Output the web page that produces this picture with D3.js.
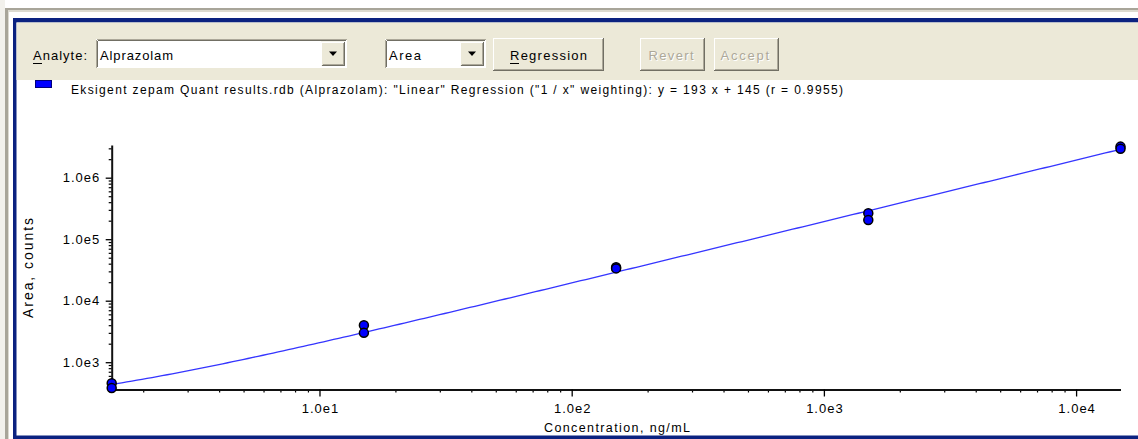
<!DOCTYPE html>
<html>
<head>
<meta charset="utf-8">
<script src="https://cdn.jsdelivr.net/npm/d3@7"></script>
<style>
  html, body { margin: 0; padding: 0; background: #ffffff; }
  svg { display: block; font-family: "Liberation Sans", Arial, sans-serif; }
</style>
</head>
<body>
<svg id="chart" width="1138" height="439"></svg>
<script>
// Calibration standards (ng/mL) and measured peak areas (counts)
const concentrations = [1.5, 1.5, 15, 15, 150, 150, 1500, 1500, 15000, 15000];
const areas = [455, 380, 4000, 3000, 35000, 33500, 265000, 205000, 3200000, 2950000];

// Regression reported by the quantitation: y = 193 x + 145, 1/x weighting
const slope = 193;
const intercept = 145;
const rValue = 0.9955;

// Axis decades and labels
const xDecades = [10, 100, 1000, 10000];
const yDecades = [1000, 10000, 100000, 1000000];
const xDomain = [1.5, 15000];
const yDomain = [360, 3400000];

const analyteName = "Alprazolam";
const responseName = "Area";
const legendText = `Eksigent zepam Quant results.rdb (${analyteName}): "Linear" Regression ("1 / x" weighting): y = ${slope} x + ${intercept} (r = ${rValue})`;

const svg = d3.select("#chart");
const W = 1138, H = 439;

// ---------- window frame ----------
svg.append("rect").attr("x", 0).attr("y", 0).attr("width", W).attr("height", H).attr("fill", "#ffffff");
svg.append("rect").attr("x", 0).attr("y", 0).attr("width", 5).attr("height", H).attr("fill", "#f2f1ec");
svg.append("rect").attr("x", 5).attr("y", 8).attr("width", 3).attr("height", H - 8).attr("fill", "#a8a599");
svg.append("rect").attr("x", 5).attr("y", 8).attr("width", W - 5).attr("height", 2).attr("fill", "#a8a599");
svg.append("rect").attr("x", 8).attr("y", 10).attr("width", W - 8).attr("height", 2).attr("fill", "#dcdad0");
svg.append("rect").attr("x", 8).attr("y", 12).attr("width", 1).attr("height", H - 12).attr("fill", "#dcdad0");

// navy panel border
const navy = "#0b2280";
svg.append("rect").attr("x", 13).attr("y", 18).attr("width", W - 13).attr("height", 4.5).attr("fill", navy);
svg.append("rect").attr("x", 13).attr("y", 18).attr("width", 3.5).attr("height", H - 18).attr("fill", navy);
svg.append("rect").attr("x", 13).attr("y", 435.5).attr("width", W - 13).attr("height", 3.5).attr("fill", navy);

// toolbar
svg.append("rect").attr("x", 16.5).attr("y", 22.5).attr("width", W - 16.5).attr("height", 57.5).attr("fill", "#ece9d8");

function line(g, x1, y1, x2, y2, c) {
  g.append("line").attr("x1", x1).attr("y1", y1).attr("x2", x2).attr("y2", y2)
    .attr("stroke", c).attr("stroke-width", 1).attr("shape-rendering", "crispEdges");
}
function raised(x, y, w, h) {
  const g = svg.append("g");
  g.append("rect").attr("x", x).attr("y", y).attr("width", w).attr("height", h).attr("fill", "#ece9d8");
  line(g, x + 0.5, y + 0.5, x + w - 0.5, y + 0.5, "#ffffff");
  line(g, x + 0.5, y + 0.5, x + 0.5, y + h - 0.5, "#ffffff");
  line(g, x + 0.5, y + h - 0.5, x + w - 0.5, y + h - 0.5, "#716f64");
  line(g, x + w - 0.5, y + 0.5, x + w - 0.5, y + h - 0.5, "#716f64");
  line(g, x + 1.5, y + h - 1.5, x + w - 1.5, y + h - 1.5, "#aca899");
  line(g, x + w - 1.5, y + 1.5, x + w - 1.5, y + h - 1.5, "#aca899");
  return g;
}
function sunken(x, y, w, h) {
  const g = svg.append("g");
  g.append("rect").attr("x", x).attr("y", y).attr("width", w).attr("height", h).attr("fill", "#ffffff");
  line(g, x + 0.5, y + 0.5, x + w - 0.5, y + 0.5, "#aca899");
  line(g, x + 0.5, y + 0.5, x + 0.5, y + h - 0.5, "#aca899");
  line(g, x + 1.5, y + 1.5, x + w - 1.5, y + 1.5, "#716f64");
  line(g, x + 1.5, y + 1.5, x + 1.5, y + h - 1.5, "#716f64");
  line(g, x + 0.5, y + h - 0.5, x + w - 0.5, y + h - 0.5, "#ffffff");
  line(g, x + w - 0.5, y + 0.5, x + w - 0.5, y + h - 0.5, "#ffffff");
  return g;
}
function label(x, y, str, len, opts = {}) {
  const t = svg.append("text").attr("x", x).attr("y", y)
    .attr("font-size", opts.size || 13)
    .attr("fill", opts.fill || "#000000")
    .attr("text-anchor", opts.anchor || "start")
    .text(str);
  if (len) t.attr("textLength", len).attr("lengthAdjust", "spacing");
  if (opts.underlineFirst) {
    const n = t.node();
    const a = n.getStartPositionOfChar(0), b = n.getEndPositionOfChar(0);
    line(svg, a.x, y + 3.5, b.x, y + 3.5, opts.fill || "#000000");
  }
  return t;
}
function combo(x, y, w, h, str, textLen) {
  sunken(x, y, w, h);
  const bw = 24;
  raised(x + w - bw - 2, y + 2.5, bw, h - 5);
  const cx = x + w - 2 - bw / 2, cy = y + h / 2;
  svg.append("path").attr("d", `M${cx - 4},${cy - 2} L${cx + 4},${cy - 2} L${cx},${cy + 2.5} Z`).attr("fill", "#000000");
  label(x + 4, y + 20.5, str, textLen);
}

label(33, 59.5, "Analyte:", 54, { underlineFirst: true });
combo(96, 39, 251, 29, analyteName, 73);
combo(385, 39, 101, 29, responseName, 32);

raised(492.5, 37.5, 111, 33.5);
label(510, 59.5, "Regression", 77, { underlineFirst: true });
raised(639.5, 37.5, 65, 33.5);
label(649.5, 60.5, "Revert", 45, { fill: "#ffffff" });
label(648.5, 59.5, "Revert", 45, { fill: "#aca899" });
raised(713.5, 37.5, 65, 33.5);
label(721.5, 60.5, "Accept", 48.5, { fill: "#ffffff" });
label(720.5, 59.5, "Accept", 48.5, { fill: "#aca899" });

// ---------- legend ----------
svg.append("rect").attr("x", 35.5).attr("y", 80.5).attr("width", 16).attr("height", 7)
  .attr("fill", "#0000ff").attr("stroke", "#00007a").attr("stroke-width", 1);
label(71, 94, legendText, 772, { size: 12 });

// ---------- plot ----------
const x = d3.scaleLog().domain(xDomain).range([111.7, 1120.5]);
const y = d3.scaleLog().domain(yDomain).range([389.5, 145]);

function minorTicks(domain) {
  const out = [];
  for (let e = Math.floor(Math.log10(domain[0])); e <= Math.ceil(Math.log10(domain[1])); e++) {
    for (let m = 2; m <= 9; m++) {
      const v = m * Math.pow(10, e);
      if (v >= domain[0] && v <= domain[1]) out.push(v);
    }
  }
  return out;
}
const fmt = d => "1.0e" + Math.round(Math.log10(d));

// minor ticks
svg.append("g").attr("transform", "translate(0,389.5)")
  .call(d3.axisBottom(x).tickValues(minorTicks(xDomain)).tickSize(3).tickFormat("").tickSizeOuter(0))
  .call(g => g.select(".domain").remove())
  .call(g => g.selectAll("line").attr("stroke", "#000").attr("stroke-width", 1.2));
svg.append("g").attr("transform", "translate(111.7,0)")
  .call(d3.axisLeft(y).tickValues(minorTicks(yDomain)).tickSize(3).tickFormat("").tickSizeOuter(0))
  .call(g => g.select(".domain").remove())
  .call(g => g.selectAll("line").attr("stroke", "#000").attr("stroke-width", 1.2));

// major ticks and axis lines
const xAxis = svg.append("g").attr("transform", "translate(0,389.5)")
  .call(d3.axisBottom(x).tickValues(xDecades).tickFormat(fmt).tickSize(7).tickPadding(7).tickSizeOuter(0));
const yAxis = svg.append("g").attr("transform", "translate(111.7,0)")
  .call(d3.axisLeft(y).tickValues(yDecades).tickFormat(fmt).tickSize(6).tickPadding(6.5).tickSizeOuter(0));
[xAxis, yAxis].forEach(a => {
  a.attr("font-family", null).attr("font-size", null);
  a.select(".domain").attr("stroke", "#111").attr("stroke-width", 2);
  a.selectAll(".tick line").attr("stroke", "#000").attr("stroke-width", 1.3);
  a.selectAll(".tick text").attr("fill", "#000").attr("font-size", 13)
    .attr("textLength", 36.5).attr("lengthAdjust", "spacing");
});

// axis titles
label(617, 432, "Concentration, ng/mL", 146, { size: 12.5, anchor: "middle" });
svg.append("text").attr("transform", "translate(33,268) rotate(-90)")
  .attr("text-anchor", "middle").attr("font-size", 14).attr("fill", "#000")
  .attr("textLength", 100).attr("lengthAdjust", "spacing")
  .text(`${responseName}, counts`);

// regression curve y = slope*x + intercept drawn on log axes
const fitX = d3.range(0, 201).map(i => Math.pow(10, Math.log10(xDomain[0]) + i / 200 * (Math.log10(xDomain[1]) - Math.log10(xDomain[0]))));
svg.append("path")
  .datum(fitX)
  .attr("fill", "none").attr("stroke", "#3535ff").attr("stroke-width", 1.3)
  .attr("d", d3.line().x(d => x(d)).y(d => y(slope * d + intercept)));

// calibration points
svg.append("g").selectAll("circle")
  .data(concentrations.map((c, i) => ({ c, a: areas[i] })))
  .join("circle")
  .attr("cx", d => x(d.c)).attr("cy", d => y(d.a)).attr("r", 4.5)
  .attr("fill", "#0000ff").attr("stroke", "#000").attr("stroke-width", 1.5);
</script>
</body>
</html>
